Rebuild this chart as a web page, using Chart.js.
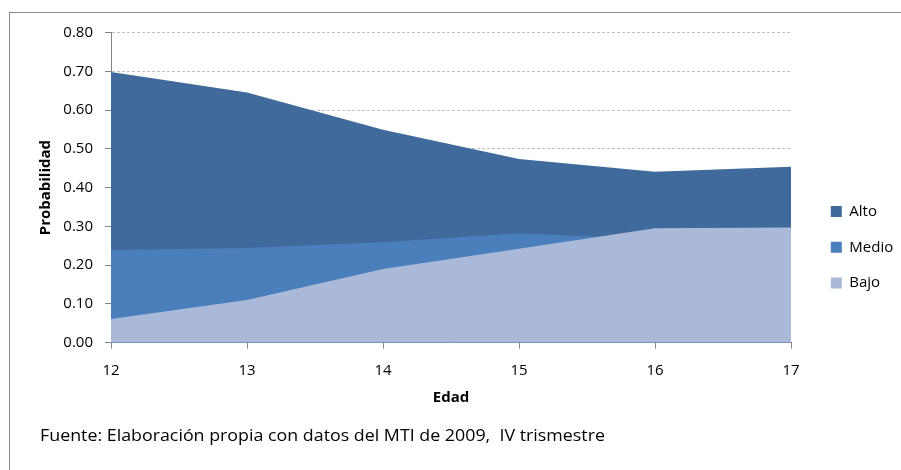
<!DOCTYPE html>
<html>
<head>
<meta charset="utf-8">
<script src="https://cdn.jsdelivr.net/npm/chart.js@4.4.1/dist/chart.umd.min.js"></script>
<style>
html, body { margin: 0; padding: 0; background: #fff; overflow: hidden; }
#marco { position: absolute; left: 9px; top: 12px; width: 1000px; height: 1000px;
         border-top: 1px solid #8c8c8c; border-left: 1px solid #8c8c8c; }
#wrap { position: absolute; left: 0; top: 0; width: 901px; height: 470px; }
#fuente { position: absolute; left: 40px; top: 423px; font-family: 'Open Sans', sans-serif;
          font-size: 17px; color: #000; white-space: nowrap; transform-origin: 0 0; }
</style>
</head>
<body>
<div id="marco"></div>
<div id="wrap"><canvas id="grafico" width="901" height="470"></canvas></div>
<div id="fuente">Fuente: Elaboración propia con datos del MTI de 2009,&nbsp; IV trismestre</div>
<script>
// datos
const edades = ['12', '13', '14', '15', '16', '17'];
const alto = [0.698, 0.645, 0.549, 0.474, 0.441, 0.454];
const medio = [0.239, 0.244, 0.259, 0.282, 0.267, 0.260];
const bajo = [0.061, 0.110, 0.190, 0.242, 0.295, 0.297];
const yTicks = [0, 0.1, 0.2, 0.3, 0.4, 0.5, 0.6, 0.7, 0.8];

const colores = { Alto: '#3f6a9b', Medio: '#4b7fbc', Bajo: '#aab9d7' };

document.addEventListener('DOMContentLoaded', () => {
    main();
});

function main() {
    grafico();
    ajustarFuente();
}

function serie(nombre, valores) {
    return {
        label: nombre,
        data: valores,
        backgroundColor: colores[nombre],
        borderColor: colores[nombre],
        borderWidth: 0,
        pointRadius: 0,
        fill: 'origin',
        tension: 0
    };
}

function grafico() {
    const ctx = document.querySelector('#grafico').getContext('2d');
    Chart.defaults.font.family = "'Open Sans', sans-serif";
    Chart.defaults.color = '#000';
    const gris = '#868686';

    // el primero se dibuja encima
    new Chart(ctx, {
        type: 'line',
        data: {
            labels: edades,
            datasets: [serie('Bajo', bajo), serie('Medio', medio), serie('Alto', alto)]
        },
        options: {
            responsive: false,
            animation: false,
            layout: { padding: { left: 0, top: 32.5, right: 0, bottom: 8 } },
            plugins: {
                tooltip: { enabled: false },
                legend: {
                    position: 'right',
                    reverse: true,
                    maxWidth: 91,
                    labels: {
                        boxWidth: 11,
                        boxHeight: 11,
                        padding: 20.8,
                        font: { size: 15 }
                    }
                }
            },
            scales: {
                x: {
                    offset: false,
                    grid: { drawOnChartArea: false, tickLength: 6, tickColor: gris },
                    border: { color: gris },
                    ticks: { padding: 13, font: { size: 15 }, maxRotation: 0 },
                    title: { display: true, text: 'Edad', font: { size: 15, weight: 'bold' },
                             padding: { top: 0, bottom: 55 } },
                    afterFit: s => { s.height = 462 - 342.7; }
                },
                y: {
                    min: 0,
                    max: 0.8,
                    afterBuildTicks: s => { s.ticks = yTicks.map(v => ({ value: v })); },
                    grid: { color: '#c0c0c0', tickLength: 6, tickColor: gris },
                    border: { color: gris, dash: [3, 2] },
                    ticks: { padding: 12, font: { size: 15 }, callback: v => v.toFixed(2) },
                    title: { display: true, text: 'Probabilidad', font: { size: 15, weight: 'bold' },
                             padding: { top: 36.5, bottom: 0 } },
                    afterFit: s => { s.width = 111; }
                },
                hueco: {
                    type: 'linear',
                    position: 'right',
                    display: true,
                    grid: { display: false },
                    border: { display: false },
                    ticks: { display: false },
                    afterFit: s => { s.width = 19; }
                }
            }
        }
    });
}

function ajustarFuente() {
    const el = document.querySelector('#fuente');
    const w = el.getBoundingClientRect().width;
    el.style.transform = `scaleX(${565 / w})`;
}
</script>
</body>
</html>
